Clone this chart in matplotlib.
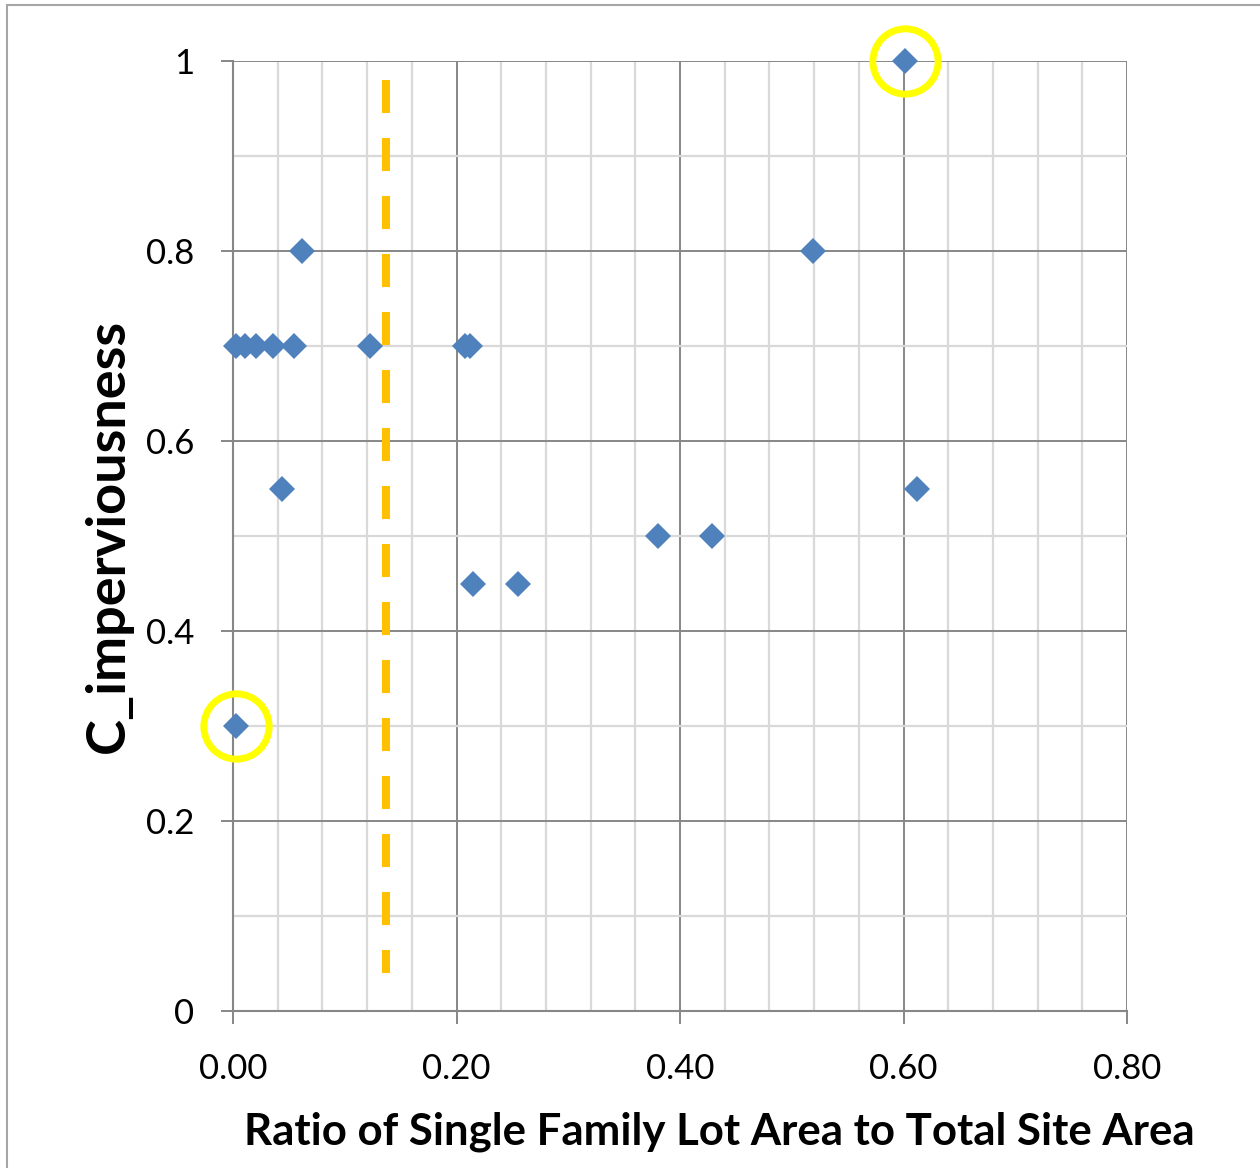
import matplotlib.pyplot as plt
import matplotlib.patches as mpatches
import numpy as np

# data
ratio = [0.003, 0.011, 0.021, 0.036, 0.055, 0.062, 0.044, 0.123, 0.2075, 0.212,
         0.215, 0.255, 0.380, 0.429, 0.519, 0.601, 0.612, 0.003]
c_imp = [0.70, 0.70, 0.70, 0.70, 0.70, 0.80, 0.55, 0.70, 0.70, 0.70,
         0.45, 0.45, 0.50, 0.50, 0.80, 1.00, 0.55, 0.30]

# highlighted points (yellow rings)
ring_x = [0.601, 0.003]
ring_y = [1.00, 0.30]

# threshold line
thresh_x = [0.1366, 0.1366]
thresh_y = [0.98, 0.04]

x_ticks = [0.0, 0.2, 0.4, 0.6, 0.8]
x_ticklabels = ['0.00', '0.20', '0.40', '0.60', '0.80']
y_ticks = [0, 0.2, 0.4, 0.6, 0.8, 1.0]
y_ticklabels = ['0', '0.2', '0.4', '0.6', '0.8', '1']

plt.rcParams['font.family'] = ['Lato', 'DejaVu Sans']

fig = plt.figure(figsize=(12.6, 11.68), dpi=100)
ax = fig.add_axes([233 / 1260, 157 / 1168, 894 / 1260, 950 / 1168])

ax.set_xlim(0, 0.8)
ax.set_ylim(0, 1)

# grid
ax.set_xticks(np.arange(0, 0.81, 0.04), minor=True)
ax.set_yticks(np.arange(0, 1.01, 0.1), minor=True)
ax.grid(which='minor', color='#d9d9d9', linewidth=1.6, zorder=0)
ax.grid(which='major', color='#878787', linewidth=1.4, zorder=0.5)
ax.set_axisbelow(True)

ax.set_xticks(x_ticks)
ax.set_xticklabels(x_ticklabels, fontsize=25)
ax.set_yticks(y_ticks)
ax.set_yticklabels(y_ticklabels, fontsize=25)
ax.tick_params(which='major', length=9, width=1.4, color='#878787')
ax.tick_params(axis='x', which='major', pad=21)
ax.tick_params(axis='y', which='major', pad=19)
ax.tick_params(which='minor', length=0)

for side in ['top', 'right']:
    ax.spines[side].set_visible(False)
for side in ['left', 'bottom']:
    ax.spines[side].set_color('#878787')
    ax.spines[side].set_linewidth(1.5)

ax.plot(ratio, c_imp, linestyle='none', marker='D', markersize=13,
        color='#4f81bd', markeredgewidth=0, zorder=3, clip_on=False)

ax.plot(thresh_x, thresh_y, color='#ffc000', linewidth=5.8,
        dashes=(4.1, 3.1), solid_capstyle='butt', zorder=2)

ax.plot(ring_x, ring_y, linestyle='none', marker='o', markersize=47,
        markerfacecolor='none', markeredgecolor='#ffff00', markeredgewidth=5,
        zorder=4, clip_on=False)

ax.set_xlabel('Ratio of Single Family Lot Area to Total Site Area',
              fontsize=31.5, fontweight='bold')
ax.xaxis.set_label_coords(0.5436, -0.106)
ax.set_ylabel('C_imperviousness', fontsize=39, fontweight='bold')
ax.yaxis.set_label_coords(-0.112, 0.5)

# outer chart border
fig.patches.append(mpatches.Rectangle((7 / 1260, -0.5), 2, 1.5 - 5 / 1168,
                                      transform=fig.transFigure, fill=False,
                                      edgecolor='#a6a6a6', linewidth=1.5))

fig.savefig('out.png', dpi=100)
